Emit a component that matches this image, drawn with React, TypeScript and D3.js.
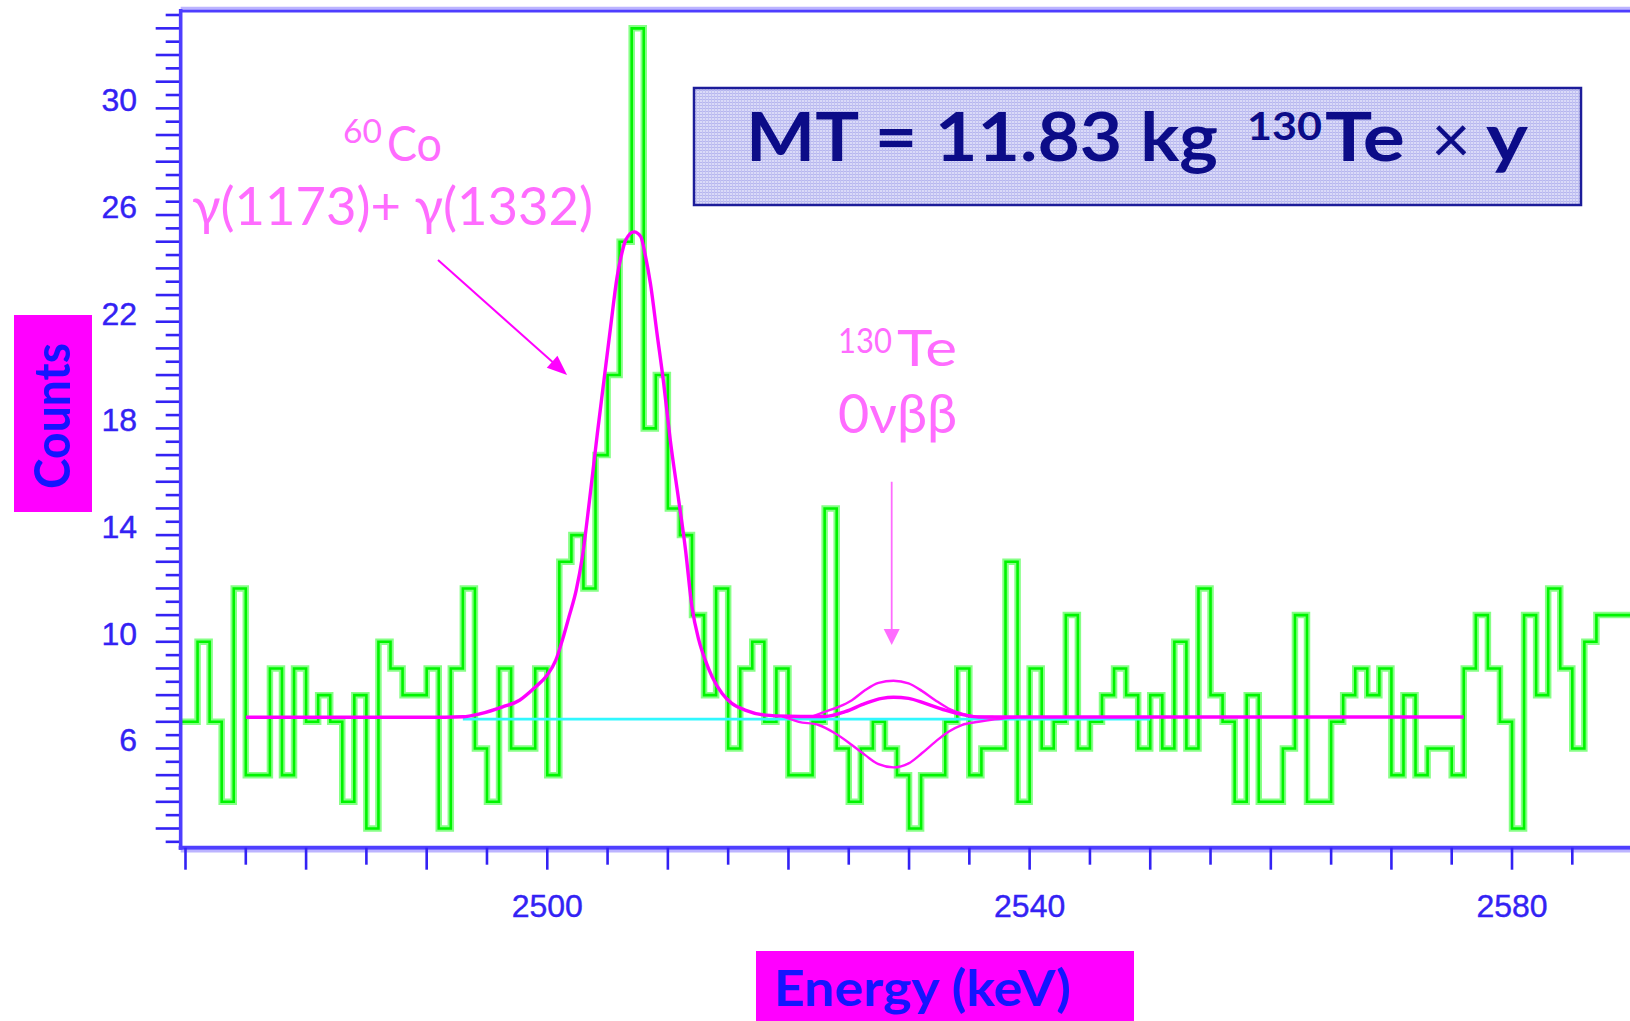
import React from "react";
import * as d3 from "d3";

// ─── Data ────────────────────────────────────────────────────────────────────
const W = 1630;
const H = 1021;

// 1 keV bins, first bin starts at 2469 keV
const binStart = 2469;
const binWidth = 1;
const counts = [
  7, 7, 10, 7, 4, 12, 5, 5, 9, 5, 9, 7, 8, 7, 4, 8, 3, 10, 9, 8,
  8, 9, 3, 9, 12, 6, 4, 9, 6, 6, 9, 5, 13, 14, 12, 17, 20, 25, 33, 18,
  20, 15, 14, 11, 8, 12, 6, 9, 10, 7, 9, 5, 5, 7, 15, 6, 4, 6, 7, 6,
  5, 3, 5, 5, 7, 9, 5, 6, 6, 13, 4, 9, 6, 7, 11, 6, 7, 8, 9, 8,
  6, 8, 6, 10, 6, 12, 8, 7, 4, 8, 4, 4, 6, 11, 4, 4, 7, 8, 9, 8,
  9, 5, 8, 5, 6, 6, 5, 9, 11, 9, 7, 3, 11, 8, 12, 9, 6, 10, 11, 11,
  11,
];

// total fit (60Co sum peak + flat background + best-fit 0vbb)
const fitEnergy = [
  2475, 2490, 2493, 2494.4, 2496.3, 2497.7, 2499, 2499.9, 2500.7, 2501.25,
  2501.8, 2502.4, 2502.9, 2503.5, 2504.15, 2504.7, 2505.25, 2505.8, 2506.1, 2506.5,
  2507.2, 2507.75, 2508.15, 2508.55, 2509.1, 2509.65, 2510.2, 2510.9, 2511.45, 2512.0,
  2512.57, 2513.1, 2513.67, 2514.5, 2515.3, 2516.4, 2518.1, 2520, 2522, 2523.05,
  2524.7, 2526.37, 2527.75, 2528.71, 2529.96, 2531.34, 2533.0, 2534.65, 2535.75, 2540,
  2576,
];
const fitCounts = [
  7.17, 7.17, 7.19, 7.3, 7.56, 7.81, 8.3, 8.7, 9.3, 10.06,
  10.94, 11.94, 13.15, 15.3, 17.8, 19.8, 21.8, 23.7, 24.4, 25.06,
  25.37, 25.19, 24.44, 23.44, 21.56, 19.7, 17.56, 15.3, 13.5, 11.3,
  10.06, 9.31, 8.69, 8.06, 7.69, 7.44, 7.25, 7.21, 7.2, 7.2,
  7.38, 7.69, 7.88, 7.92, 7.88, 7.69, 7.44, 7.25, 7.18, 7.18,
  7.18,
];

// 0vbb signal at the upper limit
const upperEnergy = [2522, 2523.05, 2524.16, 2525.26, 2526.37, 2527.47, 2528.71, 2529.96, 2531.06, 2532.17, 2533.27, 2534.37, 2535.75, 2537];
const upperCounts = [7.2, 7.38, 7.56, 7.81, 8.19, 8.46, 8.54, 8.44, 8.16, 7.81, 7.5, 7.31, 7.19, 7.18];

// 0vbb signal at the lower limit
const lowerEnergy = [2519.5, 2520.85, 2522.5, 2523.9, 2525.26, 2526.37, 2527.47, 2528.71, 2529.96, 2531.06, 2532.17, 2533.27, 2534.37, 2535.75, 2537.1, 2539];
const lowerCounts = [7.2, 7.0, 6.88, 6.56, 6.13, 5.75, 5.41, 5.29, 5.44, 5.82, 6.25, 6.63, 6.88, 7.0, 7.09, 7.18];

// flat background component
const bgEnergy = [2493, 2550];
const bgCounts = [7.1, 7.1];

const yLabels = [6, 10, 14, 18, 22, 26, 30];
const xLabels = [2500, 2540, 2580];

// annotation arrows (keV, counts)
const coArrow = { from: [2490.94, 24.31], to: [2501.64, 20.0] };
const teArrow = { from: [2528.56, 16.0], to: [2528.56, 9.88] };

const BLUE = "#3322f4";
const PINK = "#ff6cff";

function arrowHead(x1: number, y1: number, x2: number, y2: number, len: number, half: number) {
  const a = Math.atan2(y2 - y1, x2 - x1);
  const bx = x2 - len * Math.cos(a);
  const by = y2 - len * Math.sin(a);
  const px = -Math.sin(a) * half;
  const py = Math.cos(a) * half;
  return `${x2},${y2} ${bx + px},${by + py} ${bx - px},${by - py}`;
}

export default function App() {
  const x = d3.scaleLinear().domain([2470, 2590]).range([185.5, 1632.6]);
  const y = d3.scaleLinear().domain([2.28, 33.65]).range([847.7, 11]);
  const left = x(2469.6);
  const bottom = y(2.28);
  const top = y(33.65);

  const histPts: [number, number][] = counts.map((c, i) => [binStart + i * binWidth, c]);
  histPts.push([binStart + counts.length * binWidth, counts[counts.length - 1]]);
  const step = d3
    .line<[number, number]>()
    .x((d) => x(d[0]))
    .y((d) => y(d[1]))
    .curve(d3.curveStepAfter);

  const smooth = (es: number[], cs: number[]) =>
    d3
      .line<number>()
      .x((e) => x(e))
      .y((_, i) => y(cs[i]))
      .curve(d3.curveMonotoneX)(es) ?? "";

  const yTicks = d3.range(2.5, 33.51, 0.5);
  const xTicks = d3.range(2470, 2591, 5);

  const [a1x1, a1y1, a1x2, a1y2] = [x(coArrow.from[0]), y(coArrow.from[1]), x(coArrow.to[0]), y(coArrow.to[1])];
  const [a2x1, a2y1, a2x2, a2y2] = [x(teArrow.from[0]), y(teArrow.from[1]), x(teArrow.to[0]), y(teArrow.to[1])];

  return (
    <div style={{ position: "absolute", left: 0, top: 0 }}>
      <svg width={W} height={H} viewBox={`0 0 ${W} ${H}`} style={{ display: "block", background: "#fff" }}>
        <defs>
          <clipPath id="plot">
            <rect x={left} y={top} width={W - left} height={bottom - top} />
          </clipPath>
          <pattern id="grain" width="3" height="3" patternUnits="userSpaceOnUse">
            <rect width="3" height="3" fill="#dadaf8" />
            <rect width="3" height="1" fill="#b6b6ee" />
            <rect width="1" height="3" fill="#c2c2f2" />
          </pattern>
        </defs>

        {/* ── Frame ───────────────────────────────────────────────── */}
        <line x1={left} x2={W} y1={top - 3} y2={top - 3} stroke="#bcb4ff" strokeWidth={2.5} />
        <line x1={left} x2={W} y1={top} y2={top} stroke="#4e3eff" strokeWidth={3.2} />

        {/* ── Histogram ───────────────────────────────────────────── */}
        <g clipPath="url(#plot)">
          <path d={step(histPts) ?? ""} fill="none" stroke="#86ff86" strokeWidth={6.5} />
          <path d={step(histPts) ?? ""} fill="none" stroke="#00f400" strokeWidth={2.6} />
        </g>

        {/* ── Fits ────────────────────────────────────────────────── */}
        <path d={smooth(bgEnergy, bgCounts)} fill="none" stroke="#30f8ff" strokeWidth={2.6} />
        <path d={smooth(lowerEnergy, lowerCounts)} fill="none" stroke="#ff10ff" strokeWidth={2.4} />
        <path d={smooth(upperEnergy, upperCounts)} fill="none" stroke="#ff10ff" strokeWidth={2.4} />
        <path d={smooth(fitEnergy, fitCounts)} fill="none" stroke="#ff00ff" strokeWidth={3.4} />

        {/* ── Y axis ──────────────────────────────────────────────── */}
        {yTicks.map((v) => (
          <line
            key={v}
            x1={Number.isInteger(v) ? left - 25 : left - 15}
            x2={left}
            y1={y(v)}
            y2={y(v)}
            stroke={BLUE}
            strokeWidth={2.6}
          />
        ))}
        <line x1={left} x2={left} y1={top - 2} y2={bottom + 2} stroke="#4e3eff" strokeWidth={3.6} />
        {yLabels.map((v) => (
          <text
            key={v}
            x={137}
            y={y(v) + 3}
            textAnchor="end"
            fontFamily="'Liberation Sans', Arial, sans-serif"
            fontSize={32}
            fill={BLUE}
            stroke={BLUE}
            strokeWidth={0.4}
          >
            {v}
          </text>
        ))}

        {/* ── X axis ──────────────────────────────────────────────── */}
        <line x1={left} x2={W} y1={bottom + 3.5} y2={bottom + 3.5} stroke="#bcb4ff" strokeWidth={2.5} />
        <line x1={left - 2} x2={W} y1={bottom} y2={bottom} stroke="#4e3eff" strokeWidth={4} />
        {xTicks.map((v) => (
          <line
            key={v}
            x1={x(v)}
            x2={x(v)}
            y1={bottom}
            y2={v % 10 === 0 ? bottom + 22 : bottom + 17}
            stroke={BLUE}
            strokeWidth={2.6}
          />
        ))}
        {xLabels.map((v) => (
          <text
            key={v}
            x={x(v)}
            y={917}
            textAnchor="middle"
            fontFamily="'Liberation Sans', Arial, sans-serif"
            fontSize={32}
            fill={BLUE}
            stroke={BLUE}
            strokeWidth={0.4}
          >
            {v}
          </text>
        ))}

        {/* ── Axis titles ─────────────────────────────────────────── */}
        <rect x={14} y={315} width={78} height={197} fill="#ff00ff" />
        <text
          transform="translate(70,416) rotate(-90)"
          textAnchor="middle"
          fontFamily="Lato, 'DejaVu Sans', sans-serif"
          fontWeight={700}
          fontSize={50}
          textLength={146}
          lengthAdjust="spacingAndGlyphs"
          fill="#1414ff"
        >
          Counts
        </text>
        <rect x={756} y={951} width={378} height={75} fill="#ff00ff" />
        <text
          x={774}
          y={1006}
          fontFamily="Lato, 'DejaVu Sans', sans-serif"
          fontWeight={700}
          fontSize={50}
          textLength={297}
          lengthAdjust="spacingAndGlyphs"
          fill="#1414ff"
        >
          Energy (keV)
        </text>

        {/* ── Exposure box ────────────────────────────────────────── */}
        <rect x={694} y={88} width={887} height={117} fill="url(#grain)" stroke="#1c1c9a" strokeWidth={2.5} />
        <g fontFamily="Lato, 'DejaVu Sans', sans-serif" fontWeight={700} fill="#0c0c88">
          <text x={746} y={161} fontSize={66} textLength={472} lengthAdjust="spacingAndGlyphs">
            MT = 11.83 kg
          </text>
          <text x={1247} y={140} fontSize={38} textLength={75} lengthAdjust="spacingAndGlyphs">
            130
          </text>
          <text x={1325} y={161} fontSize={66} textLength={80} lengthAdjust="spacingAndGlyphs">
            Te
          </text>
          <text x={1451} y={163} fontSize={68} fontWeight={400} textAnchor="middle">
            ×
          </text>
          <text x={1486} y={161} fontSize={66} textLength={42} lengthAdjust="spacingAndGlyphs">
            y
          </text>
        </g>

        {/* ── Annotations ─────────────────────────────────────────── */}
        <g fontFamily="Lato, 'DejaVu Sans', sans-serif" fill={PINK}>
          <text x={343} y={143} fontSize={32} textLength={39} lengthAdjust="spacingAndGlyphs">
            60
          </text>
          <text x={387} y={161} fontSize={48} textLength={55} lengthAdjust="spacingAndGlyphs">
            Co
          </text>
          <text x={192} y={225} fontSize={52} textLength={401} lengthAdjust="spacingAndGlyphs">
            γ(1173)+ γ(1332)
          </text>
          <text x={838} y={353} fontSize={34} textLength={54} lengthAdjust="spacingAndGlyphs">
            130
          </text>
          <text x={897} y={366} fontSize={50} textLength={60} lengthAdjust="spacingAndGlyphs">
            Te
          </text>
          <text x={838} y={433} fontSize={55} textLength={119} lengthAdjust="spacingAndGlyphs">
            0νββ
          </text>
        </g>

        <line x1={a1x1} y1={a1y1} x2={a1x2 - 10} y2={a1y2 - 9} stroke="#ff00ff" strokeWidth={2} />
        <polygon points={arrowHead(a1x1, a1y1, a1x2, a1y2, 20, 8)} fill="#ff00ff" />
        <line x1={a2x1} y1={a2y1} x2={a2x2} y2={a2y2 - 12} stroke={PINK} strokeWidth={1.8} />
        <polygon points={arrowHead(a2x1, a2y1, a2x2, a2y2, 16, 8)} fill={PINK} />
      </svg>
    </div>
  );
}
